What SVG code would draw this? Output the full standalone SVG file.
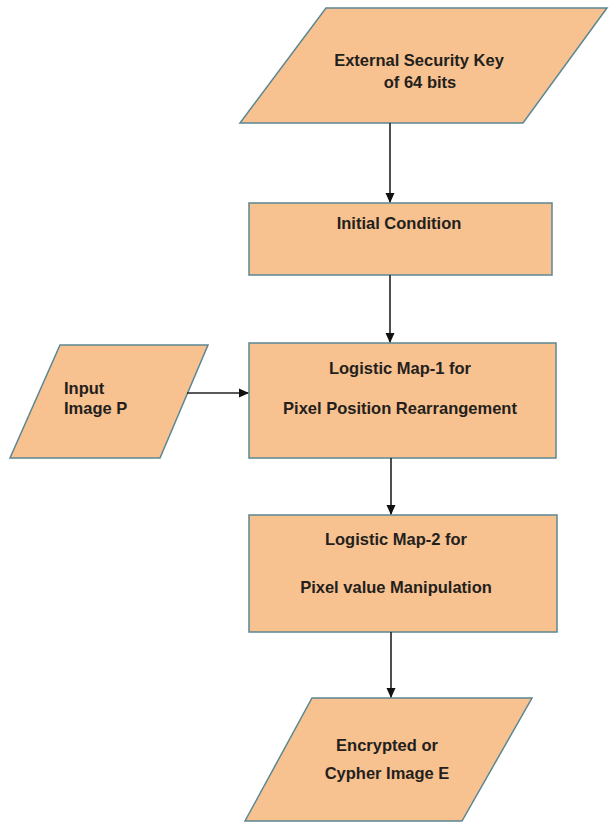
<svg xmlns="http://www.w3.org/2000/svg" width="610" height="822" viewBox="0 0 610 822">
<defs>
<style>
.shape{fill:#F8C190;stroke:#5B8793;stroke-width:1.5}
.t{font-family:"Liberation Sans",Arial,sans-serif;font-weight:bold;font-size:16.5px;fill:#231f1c;text-anchor:middle}
.tl{text-anchor:start}
.c{stroke:#222;stroke-width:1.6;fill:none;marker-end:url(#ah)}
</style>
<marker id="ah" markerWidth="10" markerHeight="10" refX="9" refY="5" orient="auto" markerUnits="userSpaceOnUse">
<path d="M0,0.5 L10,5 L0,9.5 Z" fill="#111"/>
</marker>
</defs>
<rect width="610" height="822" fill="#fff"/>
<g id="key">
<polygon class="shape" points="326,8 607,8 523,123 240,123"/>
<text class="t" x="419" y="66">External Security Key</text>
<text class="t" x="420" y="88">of 64 bits</text>
</g>
<g id="initial">
<rect class="shape" x="249" y="203" width="303" height="72"/>
<text class="t" x="399" y="229">Initial Condition</text>
</g>
<g id="input">
<polygon class="shape" points="60,345 208,345 160,458 10,458"/>
<text class="t tl" x="64" y="394">Input</text>
<text class="t tl" x="64" y="414">Image P</text>
</g>
<g id="map1">
<rect class="shape" x="249" y="343" width="307" height="115"/>
<text class="t" x="400" y="374">Logistic Map-1 for</text>
<text class="t" x="400" y="414">Pixel Position Rearrangement</text>
</g>
<g id="map2">
<rect class="shape" x="249" y="515" width="308" height="117"/>
<text class="t" x="396" y="545">Logistic Map-2 for</text>
<text class="t" x="396" y="593">Pixel value Manipulation</text>
</g>
<g id="output">
<polygon class="shape" points="312,698 532,698 462,821 245,821"/>
<text class="t" x="387" y="751">Encrypted or</text>
<text class="t" x="387" y="779">Cypher Image E</text>
</g>
<g id="connectors">
<line class="c" x1="390" y1="123" x2="390" y2="202"/>
<line class="c" x1="390" y1="275" x2="390" y2="342"/>
<line class="c" x1="187" y1="393" x2="248" y2="393"/>
<line class="c" x1="391" y1="458" x2="391" y2="514"/>
<line class="c" x1="391" y1="632" x2="391" y2="697"/>
</g>
</svg>
